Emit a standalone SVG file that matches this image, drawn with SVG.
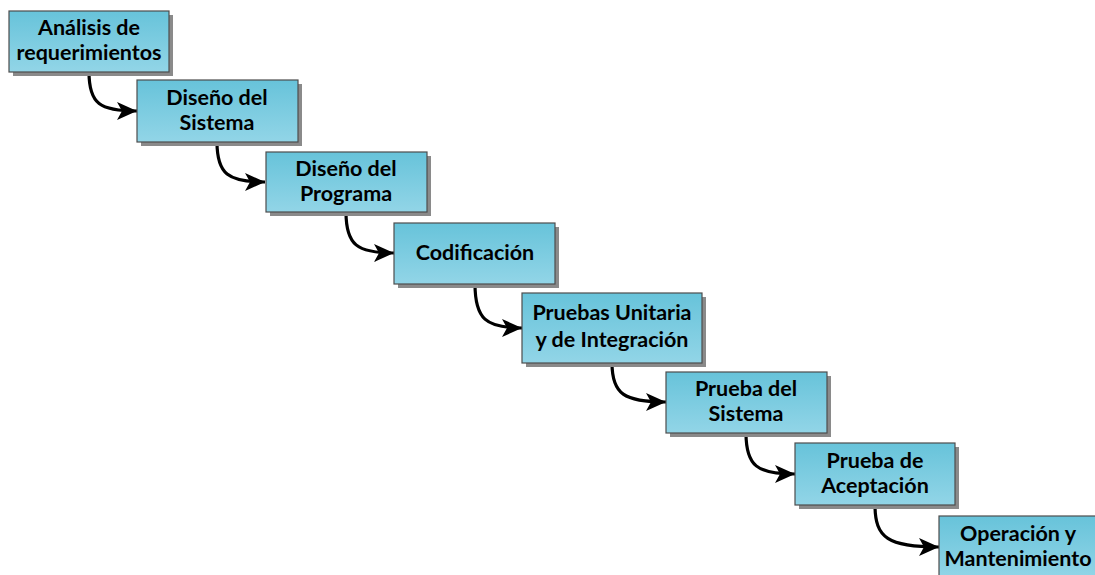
<svg xmlns="http://www.w3.org/2000/svg" width="1095" height="575" viewBox="0 0 1095 575">
<defs>
<linearGradient id="g" x1="0" y1="0" x2="0" y2="1">
<stop offset="0" stop-color="#67c3da"/>
<stop offset="1" stop-color="#92d5e7"/>
</linearGradient>
<marker id="ah" markerUnits="userSpaceOnUse" markerWidth="22" markerHeight="20" refX="20" refY="10" orient="auto">
<path d="M0,1 L20,10 L0,19 L5,10 Z" fill="#000"/>
</marker>
<style>
.sh{fill:#8a8a8a}
.bx{fill:url(#g);stroke:#4d4d4d;stroke-width:1.2}
.t{font-family:Lato,"Liberation Sans",sans-serif;font-weight:bold;font-size:21.5px;fill:#000;text-anchor:middle}
.c{fill:none;stroke:#000;stroke-width:3.2;marker-end:url(#ah)}
</style>
</defs>
<rect width="1095" height="575" fill="#fff"/>
<g id="connectors">
<path class="c" d="M89,72 C89,104 100,111 137,111"/>
<path class="c" d="M217,142 C217,174 228,182 265,182"/>
<path class="c" d="M346,212 C346,245 357,253 394,253"/>
<path class="c" d="M475,284 C475,319 486,328 522,328"/>
<path class="c" d="M612,363 C612,394 624,402 666,402"/>
<path class="c" d="M746,433 C746,466 757,474 795,474"/>
<path class="c" d="M875,505 C875,538 888,547 939,547"/>
</g>
<g id="n1"><rect class="sh" x="13" y="15" width="160" height="61"/><rect class="bx" x="9" y="11" width="160" height="61"/><text class="t" x="89" y="35">Análisis de</text><text class="t" x="89" y="60">requerimientos</text></g>
<g id="n2"><rect class="sh" x="141" y="84" width="161" height="62"/><rect class="bx" x="137" y="80" width="161" height="62"/><text class="t" x="217" y="105">Diseño del</text><text class="t" x="217" y="130">Sistema</text></g>
<g id="n3"><rect class="sh" x="270" y="156" width="161" height="60"/><rect class="bx" x="266" y="152" width="161" height="60"/><text class="t" x="346" y="176">Diseño del</text><text class="t" x="346" y="201">Programa</text></g>
<g id="n4"><rect class="sh" x="398" y="227" width="161" height="61"/><rect class="bx" x="394" y="223" width="161" height="61"/><text class="t" x="475" y="260">Codificación</text></g>
<g id="n5"><rect class="sh" x="526" y="297" width="180" height="70"/><rect class="bx" x="522" y="293" width="180" height="70"/><text class="t" x="612" y="320">Pruebas Unitaria</text><text class="t" x="612" y="347">y de Integración</text></g>
<g id="n6"><rect class="sh" x="670" y="376" width="161" height="61"/><rect class="bx" x="666" y="372" width="161" height="61"/><text class="t" x="746" y="396">Prueba del</text><text class="t" x="746" y="421">Sistema</text></g>
<g id="n7"><rect class="sh" x="799" y="447" width="160" height="62"/><rect class="bx" x="795" y="443" width="160" height="62"/><text class="t" x="875" y="468">Prueba de</text><text class="t" x="875" y="493">Aceptación</text></g>
<g id="n8"><rect class="sh" x="943" y="520" width="160" height="62"/><rect class="bx" x="939" y="516" width="160" height="62"/><text class="t" x="1018" y="541">Operación y</text><text class="t" x="1018" y="566">Mantenimiento</text></g>
</svg>
